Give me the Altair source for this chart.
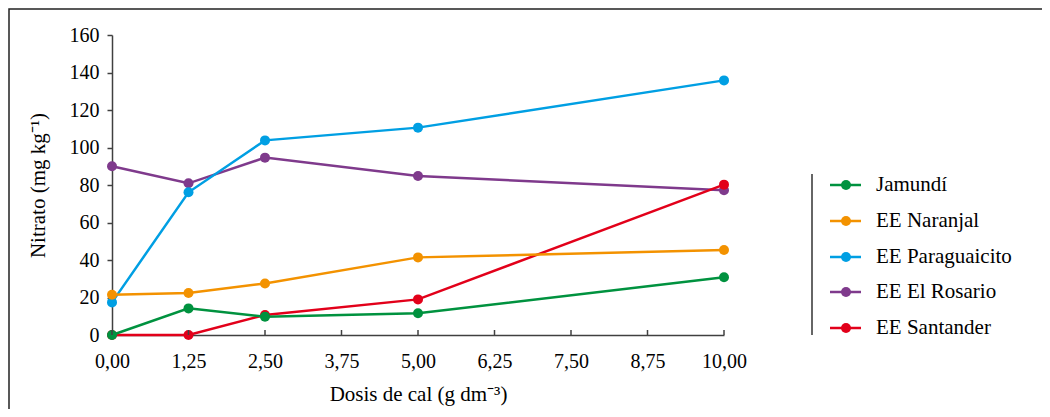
import altair as alt
import pandas as pd

# ---- data ----
dosis = [0, 1.25, 2.5, 5, 10]
series_names = ["Jamundí", "EE Naranjal", "EE Paraguaicito", "EE El Rosario", "EE Santander"]
jamundi = [0, 14.2, 9.8, 11.6, 30.8]
naranjal = [21.5, 22.4, 27.5, 41.4, 45.3]
paraguaicito = [17.4, 76.1, 103.8, 110.6, 135.8]
rosario = [90.0, 80.9, 94.6, 84.8, 77.2]
santander = [0, 0, 10.7, 19.0, 80.2]
series_values = [jamundi, naranjal, paraguaicito, rosario, santander]
colors = ["#00923F", "#F39200", "#009FE3", "#7F3A8C", "#E2001A"]
x_ticks = [0, 1.25, 2.5, 3.75, 5, 6.25, 7.5, 8.75, 10]
y_ticks = [0, 20, 40, 60, 80, 100, 120, 140, 160]
x_title = "Dosis de cal (g dm⁻³)"
y_title = "Nitrato (mg kg⁻¹)"

FONT = "Liberation Serif"
AX = "#404040"

xscale = alt.Scale(domain=[0, 10], nice=False, zero=False)
yscale = alt.Scale(domain=[0, 160], nice=False)
xaxis = alt.Axis(values=x_ticks, labelExpr="replace(format(datum.value, '.2f'), '.', ',')",
                 ticks=False, grid=False, domainColor=AX, domainWidth=1.5, labelPadding=16,
                 titlePadding=12, labelFlush=False,
                 labelFont=FONT, titleFont=FONT, labelFontSize=20, titleFontSize=21,
                 labelColor="#000", titleColor="#000", titleFontWeight="normal")
yaxis = alt.Axis(values=y_ticks, grid=False, domainColor=AX, domainWidth=1.5, tickColor=AX,
                 tickWidth=1.5, tickSize=5, labelPadding=8, titlePadding=21,
                 labelFont=FONT, titleFont=FONT, labelFontSize=20, titleFontSize=21,
                 labelColor="#000", titleColor="#000", titleFontWeight="normal")

# draw order (last on top)
draw_order = [3, 4, 2, 1, 0]
legend_rows = [150, 186, 222, 257, 293]

layers = []
for i in draw_order:
    df = pd.DataFrame({"dosis": dosis, "nitrato": series_values[i], "serie": series_names[i]})
    base = alt.Chart(df).encode(
        x=alt.X("dosis:Q", scale=xscale, axis=xaxis, title=x_title),
        y=alt.Y("nitrato:Q", scale=yscale, axis=yaxis, title=y_title),
    )
    layers.append(base.mark_line(color=colors[i], strokeWidth=2.5))
    layers.append(base.mark_circle(color=colors[i], size=100, opacity=1))

# inward x ticks
tick_df = pd.DataFrame({"t": x_ticks})
layers.append(alt.Chart(tick_df).mark_rule(color=AX, strokeWidth=1.5).encode(
    x=alt.X("t:Q", scale=xscale, axis=xaxis, title=x_title),
    y=alt.value(300), y2=alt.value(295)))

# legend (manual)
for i, name in enumerate(series_names):
    ldf = pd.DataFrame({"s": [name]})
    yy = legend_rows[i]
    layers.append(alt.Chart(ldf).mark_rule(color=colors[i], strokeWidth=2.5).encode(
        x=alt.value(718), x2=alt.value(749), y=alt.value(yy)))
    layers.append(alt.Chart(ldf).mark_circle(color=colors[i], size=100, opacity=1).encode(
        x=alt.value(734), y=alt.value(yy)))
    layers.append(alt.Chart(ldf).mark_text(align="left", baseline="middle", font=FONT,
                                           fontSize=21, color="#000").encode(
        x=alt.value(764), y=alt.value(yy), text="s:N"))

# legend separator
sep_df = pd.DataFrame({"a": [0]})
layers.append(alt.Chart(sep_df).mark_rule(color="#333", strokeWidth=1.5).encode(
    x=alt.value(700), y=alt.value(139), y2=alt.value(300)))

# outer frame (bottom edge falls outside the picture, as in the reference)
layers.append(alt.Chart(sep_df).mark_rect(fill=None, stroke="#222", strokeWidth=1.5).encode(
    x=alt.value(-103), x2=alt.value(935), y=alt.value(-26), y2=alt.value(395)))

chart = alt.layer(*layers).properties(
    width=612, height=300,
    background="white",
    autosize=alt.AutoSizeParams(type="none"),
    padding={"left": 104, "top": 27, "right": 318, "bottom": 74},
).configure(font=FONT).configure_view(stroke=None)

chart.save("out.html", embed_options={"renderer": "svg", "actions": False})
